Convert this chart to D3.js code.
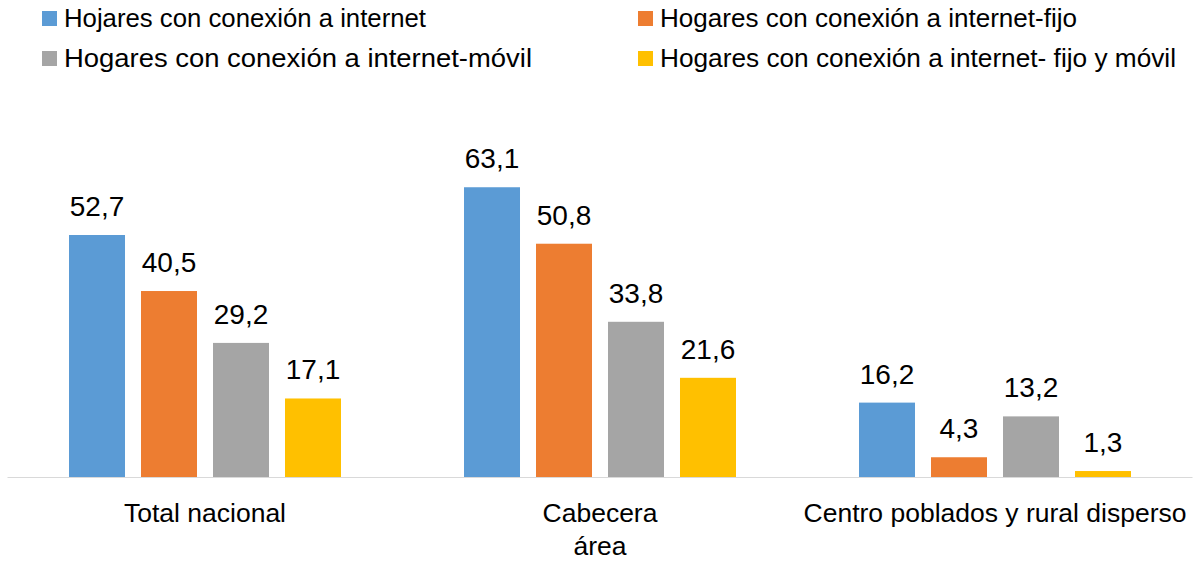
<!DOCTYPE html>
<html><head><meta charset="utf-8">
<script src="https://cdn.jsdelivr.net/npm/d3@7"></script>
<style>body{margin:0;background:#fff}svg{display:block}text{font-family:"Liberation Sans",Arial,sans-serif;fill:#000}</style>
</head><body>
<svg id="c" width="1197" height="563"></svg>
<script>
const categories = [["Total nacional"], ["Cabecera", "área"], ["Centro poblados y rural disperso"]];
const seriesNames = ["Hojares con conexión a internet", "Hogares con conexión a internet-fijo", "Hogares con conexión a internet-móvil", "Hogares con conexión a internet- fijo y móvil"];
const seriesColors = ["#5b9bd5", "#ed7d31", "#a5a5a5", "#ffc000"];
const internet = [52.7, 63.1, 16.2];
const fijo = [40.5, 50.8, 4.3];
const movil = [29.2, 33.8, 13.2];
const fijoMovil = [17.1, 21.6, 1.3];
const seriesValues = [internet, fijo, movil, fijoMovil];

const svg = d3.select("#c");
const baseY = 477;
const x0 = d3.scaleBand().domain(d3.range(categories.length)).range([7.5, 1192.5]).paddingInner(0.3114).paddingOuter(0.1557);
const x1 = d3.scaleBand().domain(d3.range(seriesNames.length)).range([0, x0.bandwidth()]).paddingInner(0.2222).paddingOuter(0);
const y = d3.scaleLinear().domain([0, 70]).range([baseY, baseY - 70 * 4.592]);
const fmt = v => d3.format(".1f")(v).replace(".", ",");

// axis baseline
svg.append("line").attr("x1", 7.5).attr("x2", 1192.5).attr("y1", baseY + 0.5).attr("y2", baseY + 0.5)
  .attr("stroke", "#d9d9d9").attr("stroke-width", 1);

const groups = svg.selectAll("g.grp").data(categories).join("g").attr("class", "grp")
  .attr("transform", (d, i) => `translate(${x0(i)},0)`);

groups.each(function (cat, ci) {
  const g = d3.select(this);
  seriesValues.forEach((vals, si) => {
    const v = vals[ci];
    g.append("rect").attr("x", x1(si)).attr("width", x1.bandwidth())
      .attr("y", y(v)).attr("height", baseY - y(v)).attr("fill", seriesColors[si]);
    g.append("text").attr("x", x1(si) + x1.bandwidth() / 2).attr("y", y(v) - 19)
      .attr("text-anchor", "middle").attr("font-size", 28).text(fmt(v));
  });
  cat.forEach((line, li) => {
    g.append("text").attr("x", x0.bandwidth() / 2).attr("y", 522 + li * 33)
      .attr("text-anchor", "middle").attr("font-size", 26.5).text(line);
  });
});

// legend
const legPos = [[42, 27], [638, 27], [42, 67], [638, 67]];
const legW = [362, 417, 468, 516];
seriesNames.forEach((n, i) => {
  const [lx, ly] = legPos[i];
  svg.append("rect").attr("x", lx).attr("y", ly - 16).attr("width", 15).attr("height", 15).attr("fill", seriesColors[i]);
  svg.append("text").attr("x", lx + 22).attr("y", ly).attr("font-size", 26)
    .attr("textLength", legW[i]).attr("lengthAdjust", "spacingAndGlyphs").text(n);
});
</script>
</body></html>
